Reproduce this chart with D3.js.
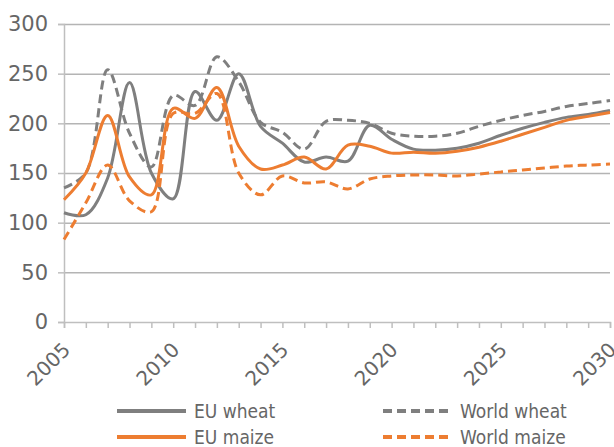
<!DOCTYPE html>
<html>
<head>
<meta charset="utf-8">
<script src="https://cdn.jsdelivr.net/npm/d3@7"></script>
<style>
  body { margin: 0; background: #fff; }
  svg text { font-family: "DejaVu Sans Condensed", "DejaVu Sans", sans-serif; fill: #666; }
  svg .tick text { font-family: "DejaVu Sans", sans-serif; }
</style>
</head>
<body>
<svg id="chart" width="614" height="447"></svg>
<script>
const years = d3.range(2005, 2031);
const yTicks = [0, 50, 100, 150, 200, 250, 300];
const xLabels = [2005, 2010, 2015, 2020, 2025, 2030];

const euWheat = [110, 108, 145, 241, 150, 124, 232, 203, 250, 197, 180, 161, 166, 162, 198, 184, 174, 173, 175, 180, 188, 195, 201, 206, 209, 213];
const worldWheat = [135, 150, 254, 190, 156, 228, 218, 267, 242, 201, 191, 174, 202, 203, 200, 190, 187, 187, 190, 197, 203, 208, 212, 217, 220, 223];
const euMaize = [123, 150, 208, 146, 128, 215, 205, 236, 177, 154, 158, 166, 154, 178, 177, 170, 171, 170, 172, 176, 182, 189, 196, 203, 207, 211];
const worldMaize = [83, 120, 158, 122, 111, 210, 210, 230, 150, 128, 147, 140, 141, 134, 144, 147, 148, 148, 147, 149, 151, 153, 155, 157, 158, 159];

const series = [
  { name: 'EU wheat', values: euWheat, color: '#7f7f7f', dash: null },
  { name: 'World wheat', values: worldWheat, color: '#7f7f7f', dash: '9,5' },
  { name: 'EU maize', values: euMaize, color: '#ed7d31', dash: null },
  { name: 'World maize', values: worldMaize, color: '#ed7d31', dash: '9,5' }
];

const margin = { top: 24, right: 4, bottom: 125, left: 64 },
    width = 614 - margin.left - margin.right,
    height = 447 - margin.top - margin.bottom;

const svg = d3.select('#chart')
    .append('g')
    .attr('transform', `translate(${margin.left}, ${margin.top})`);

const x = d3.scaleLinear().domain([2005, 2030]).range([0, width]);
const y = d3.scaleLinear().domain([0, 300]).range([height, 0]);

// gridlines
svg.append('g')
    .attr('class', 'grid')
    .call(d3.axisLeft(y).tickValues(yTicks.slice(1)).tickSize(-width).tickFormat(''))
    .call(g => g.select('.domain').remove())
    .call(g => g.selectAll('line').attr('stroke', '#b4b4b4').attr('stroke-width', 1.5));

// y axis
svg.append('g')
    .call(d3.axisLeft(y).tickValues(yTicks).tickSize(6).tickPadding(10))
    .call(g => g.select('.domain').attr('stroke', '#bfbfbf').attr('stroke-width', 1.5))
    .call(g => g.selectAll('line').attr('stroke', '#bfbfbf').attr('stroke-width', 1.5))
    .call(g => g.selectAll('text').attr('font-size', 21).style('font-family', null));

// x axis
svg.append('g')
    .attr('transform', `translate(0, ${height})`)
    .call(d3.axisBottom(x).tickValues(years).tickSize(6)
        .tickFormat(d => xLabels.includes(d) ? d : ''))
    .call(g => g.select('.domain').attr('stroke', '#bfbfbf').attr('stroke-width', 1.5))
    .call(g => g.selectAll('line').attr('stroke', '#bfbfbf').attr('stroke-width', 1.5))
    .call(g => g.selectAll('text')
        .attr('font-size', 20)
        .style('font-family', null)
        .attr('text-anchor', 'end')
        .attr('x', 2)
        .attr('y', 24)
        .attr('dy', '0.35em')
        .attr('transform', 'rotate(-45, 2, 24)'));

// lines
const line = d3.line()
    .x((d, i) => x(years[i]))
    .y(d => y(d))
    .curve(d3.curveCatmullRom.alpha(0.5));

svg.selectAll('.series')
    .data(series)
    .join('path')
    .attr('class', 'series')
    .attr('fill', 'none')
    .attr('stroke', d => d.color)
    .attr('stroke-width', 3)
    .attr('stroke-dasharray', d => d.dash)
    .attr('d', d => line(d.values));

// legend
const legend = d3.select('#chart').append('g');
const legendPos = [[117, 411], [383, 411], [117, 437], [383, 437]];

series.forEach((s, i) => {
    const [lx, ly] = legendPos[i];
    legend.append('line')
        .attr('x1', lx).attr('x2', lx + 69)
        .attr('y1', ly).attr('y2', ly)
        .attr('stroke', s.color)
        .attr('stroke-width', 4)
        .attr('stroke-dasharray', s.dash);
    legend.append('text')
        .attr('x', lx + 77)
        .attr('y', ly)
        .attr('dy', '0.35em')
        .attr('font-size', 19)
        .text(s.name);
});
</script>
</body>
</html>
